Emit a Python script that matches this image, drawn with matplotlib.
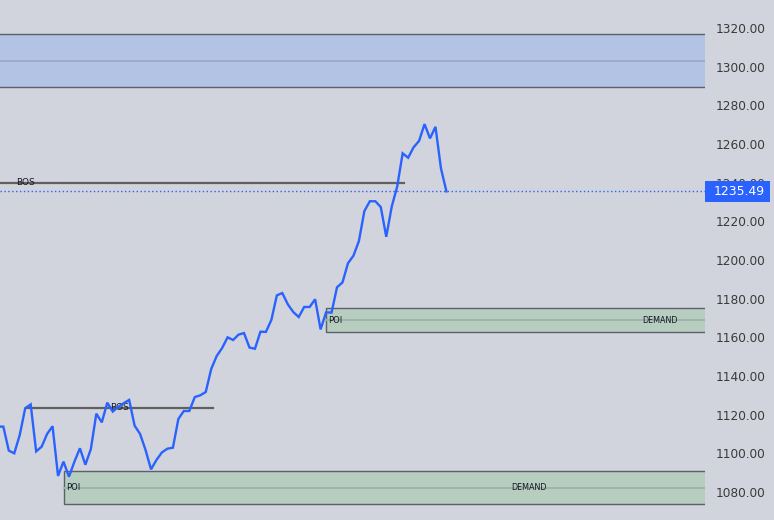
import numpy as np
import matplotlib
matplotlib.use('Agg')
import matplotlib.pyplot as plt
from matplotlib.patches import Rectangle
from matplotlib.transforms import blended_transform_factory

# ---------- données ----------
price = [1113.8, 1113.8, 1101.4, 1100.0, 1109.5, 1123.3, 1125.3, 1101.0, 1103.4, 1110.0,
         1114.0, 1088.3, 1095.7, 1087.9, 1095.7, 1102.6, 1094.1, 1102.2, 1120.5, 1116.0,
         1126.2, 1121.6, 1124.0, 1125.9, 1127.6, 1114.3, 1110.0, 1101.7, 1091.7, 1096.6,
         1100.5, 1102.4, 1102.9, 1117.8, 1121.9, 1121.9, 1129.1, 1130.0, 1131.7, 1143.6,
         1150.3, 1154.5, 1160.0, 1158.6, 1161.4, 1162.2, 1154.7, 1154.1, 1162.9, 1162.8,
         1169.0, 1181.7, 1182.9, 1177.1, 1173.1, 1170.5, 1175.7, 1175.7, 1179.7, 1164.1,
         1172.9, 1172.8, 1185.9, 1188.4, 1198.3, 1202.2, 1209.8, 1225.3, 1230.4, 1230.4,
         1227.4, 1212.0, 1227.6, 1238.0, 1255.2, 1252.9, 1258.3, 1261.6, 1270.3, 1262.9,
         1268.9, 1247.4, 1235.49]
last_price = 1235.49

# zones : (x0, x1, bas, haut)
supply_zone = (-100, 182, 1289.5, 1316.9)
demand_zones = [(60.05, 182, 1162.6, 1175.0),
                (12.15, 182, 1073.6, 1090.7)]
# BOS : (x0, x1, niveau)
bos_lines = [(-64.1, 74.2, 1240.0),
             (5.2, 39.3, 1123.6)]
yticks = list(range(1080, 1321, 20))

# ---------- style ----------
BG = '#d1d4dc'
BLUE = '#2962ff'
EDGE = '#5d606b'
SUP_FILL, SUP_MID = '#b2c3e3', '#9cabcb'
DEM_FILL, DEM_MID = '#b6cdc0', '#a0b5a9'

fig = plt.figure(figsize=(7.74, 5.20), dpi=100, facecolor=BG)
ax = fig.add_axes([0, 0, 705 / 774, 1])
ax.set_facecolor(BG)
for s in ax.spines.values():
    s.set_visible(False)

x = np.arange(len(price))
ax.set_xlim(0.391, 129.27)
ax.set_ylim(1065.5, 1334.5)


def zone(x0, x1, lo, hi, fill, mid):
    ax.add_patch(Rectangle((x0, lo), x1 - x0, hi - lo, facecolor=fill,
                           edgecolor=EDGE, lw=1.0, zorder=1))
    ax.plot([x0, x1], [(lo + hi) / 2] * 2, color=mid, lw=1.4, zorder=1.1)


x0, x1, lo, hi = supply_zone
zone(x0, x1, lo, hi, SUP_FILL, SUP_MID)
for x0, x1, lo, hi in demand_zones:
    zone(x0, x1, lo, hi, DEM_FILL, DEM_MID)
    yc = (lo + hi) / 2
    ax.text(x0 + 0.4, yc, 'POI', fontsize=6, color='#131722', va='center', ha='left', zorder=3)
    ax.text((x0 + x1) / 2, yc, 'DEMAND', fontsize=5.8, color='#131722',
            va='center', ha='center', zorder=3, clip_on=True)

for x0, x1, lvl in bos_lines:
    ax.plot([x0, x1], [lvl, lvl], color='#606060', lw=1.6, zorder=2)
    ax.text((x0 + x1) / 2, lvl, 'BOS', fontsize=6.5, color='#131722',
            va='center', ha='center', zorder=2.1, clip_on=True)

ax.axhline(last_price, color=BLUE, lw=1.0, ls=(0, (1, 1.8)), zorder=2)
ax.plot(x, price, color=BLUE, lw=1.7, zorder=4, solid_joinstyle='miter')

ax.set_xticks([])
ax.yaxis.tick_right()
ax.set_yticks(yticks)
ax.set_yticklabels([f'{v:.2f}' for v in yticks])
ax.tick_params(axis='y', length=0, pad=7.5, labelsize=8.7, labelcolor='#3a3a3a')
for lab in ax.get_yticklabels():
    lab.set_horizontalalignment('left')

# étiquette du dernier prix (masque en partie le libellé 1240.00, comme la réf)
tr = blended_transform_factory(ax.transAxes, ax.transData)
half = 10.35 / 1.9333
ax.add_patch(Rectangle((1.0, last_price - half), 65 / 705, 2 * half, transform=tr,
                       facecolor=BLUE, edgecolor='none', clip_on=False, zorder=10))
ax.text(1 + 34 / 705, last_price, f'{last_price:.2f}', transform=tr, color='white',
        fontsize=8.9, va='center', ha='center', clip_on=False, zorder=11)

fig.savefig('out.png', dpi=100, facecolor=BG)
